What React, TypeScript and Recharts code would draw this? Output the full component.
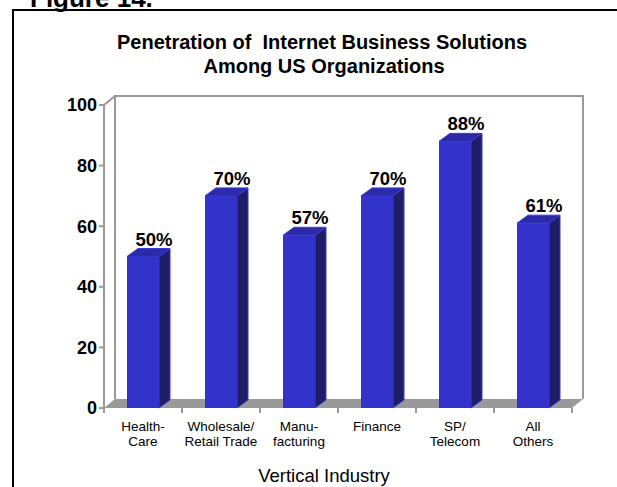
import React from 'react'
import { BarChart, Bar, XAxis, YAxis, LabelList, usePlotArea } from 'recharts'

const categories = ['Health-\nCare', 'Wholesale/\nRetail Trade', 'Manu-\nfacturing', 'Finance', 'SP/\nTelecom', 'All\nOthers']
const values = [50, 70, 57, 70, 88, 61]
const yTicks = [0, 20, 40, 60, 80, 100]

const data = categories.map((name, i) => ({ name, value: values[i] }))

const FONT = "Arial, 'Liberation Sans', Helvetica, sans-serif"
const GREY = '#999999'
const DX = 11
const DY = 9

// back wall + floor, drawn behind the bars
const Backdrop = () => {
  const area = usePlotArea()
  if (!area) return null
  const { x, y, width, height } = area
  const bottom = y + height
  const right = x + width
  const n = categories.length
  return (
    <g>
      <rect x={x + DX} y={y - DY} width={width} height={height} fill="#fff" />
      <polyline
        points={`${x + DX},${bottom - DY} ${x + DX},${y - DY} ${right + DX},${y - DY} ${right + DX},${bottom - DY}`}
        fill="none"
        stroke={GREY}
        strokeWidth={2}
      />
      <polygon
        points={`${x},${bottom} ${right},${bottom} ${right + DX},${bottom - DY} ${x + DX},${bottom - DY}`}
        fill={GREY}
      />
      <line x1={x} y1={y} x2={x + DX} y2={y - DY} stroke={GREY} strokeWidth={2} />
      {Array.from({ length: n + 1 }, (_, i) => {
        const tx = x + (i * width) / n
        return <line key={i} x1={tx} y1={bottom} x2={tx} y2={bottom + 5} stroke={GREY} strokeWidth={2} />
      })}
    </g>
  )
}

const Bar3D = (props: any) => {
  const { x, y, width, height } = props
  const d = 8
  const r = x + width
  const b = y + height
  return (
    <g>
      <polygon
        points={`${r},${y} ${r + DX},${y - d} ${r + DX},${b - d} ${r},${b}`}
        fill="#1d1d68"
        stroke="#3b3bd6"
        strokeWidth={1}
      />
      <polygon
        points={`${x},${y} ${x + DX},${y - d} ${r + DX},${y - d} ${r},${y}`}
        fill="#2b2ba8"
        stroke="#3b3bd6"
        strokeWidth={1}
      />
      <rect x={x} y={y} width={width} height={height} fill="#3333cc" />
    </g>
  )
}

const PctLabel = (props: any) => {
  const { x, y, width, value } = props
  return (
    <text x={x + width / 2 + 11} y={y - 11} textAnchor="middle" fontFamily={FONT} fontWeight="bold" fontSize={18.5} fill="#000">
      {value}%
    </text>
  )
}

const CatTick = (props: any) => {
  const { x, y, payload } = props
  const lines = String(payload.value).split('\n')
  return (
    <text x={x} y={y} textAnchor="middle" fontFamily={FONT} fontSize={13.5} fill="#000">
      {lines.map((l, i) => (
        <tspan key={i} x={x} dy={i === 0 ? 13 : 15}>
          {l}
        </tspan>
      ))}
    </text>
  )
}

export default function App() {
  return (
    <div style={{ position: 'absolute', left: 0, top: 0, width: 617, height: 487, overflow: 'hidden', background: '#fff' }}>
      <BarChart width={617} height={487} data={data} margin={{ top: 105, right: 45, left: 0, bottom: 0 }}>
        <Backdrop />
        <XAxis
          dataKey="name"
          height={79}
          axisLine={false}
          tickLine={false}
          tick={<CatTick />}
          interval={0}
          tickMargin={4}
        />
        <YAxis
          width={104}
          domain={[0, 100]}
          ticks={yTicks}
          stroke={GREY}
          axisLine={{ stroke: GREY, strokeWidth: 2 }}
          tickLine={{ stroke: GREY, strokeWidth: 2 }}
          tickSize={5}
          tickMargin={2}
          tick={{ fill: '#000', fontSize: 18, fontWeight: 'bold', fontFamily: FONT }}
        />
        <Bar dataKey="value" barSize={32} shape={<Bar3D />} isAnimationActive={false}>
          <LabelList dataKey="value" content={<PctLabel />} />
        </Bar>
      </BarChart>
      <svg width={617} height={487} style={{ position: 'absolute', left: 0, top: 0, pointerEvents: 'none' }}>
        <text x={30} y={7} fontFamily={FONT} fontWeight="bold" fontSize={26} fill="#000">
          Figure 14.
        </text>
        <line x1={12} y1={10} x2={617} y2={10} stroke="#000" strokeWidth={2} />
        <line x1={13} y1={10} x2={13} y2={487} stroke="#000" strokeWidth={2} />
        <text x={322} y={49} textAnchor="middle" fontFamily={FONT} fontWeight="bold" fontSize={20} fill="#000" style={{ whiteSpace: 'pre' }}>
          {'Penetration of  Internet Business Solutions'}
        </text>
        <text x={324} y={73} textAnchor="middle" fontFamily={FONT} fontWeight="bold" fontSize={20} fill="#000">
          Among US Organizations
        </text>
        <text x={324} y={482} textAnchor="middle" fontFamily={FONT} fontSize={18.5} fill="#000">
          Vertical Industry
        </text>
      </svg>
    </div>
  )
}
